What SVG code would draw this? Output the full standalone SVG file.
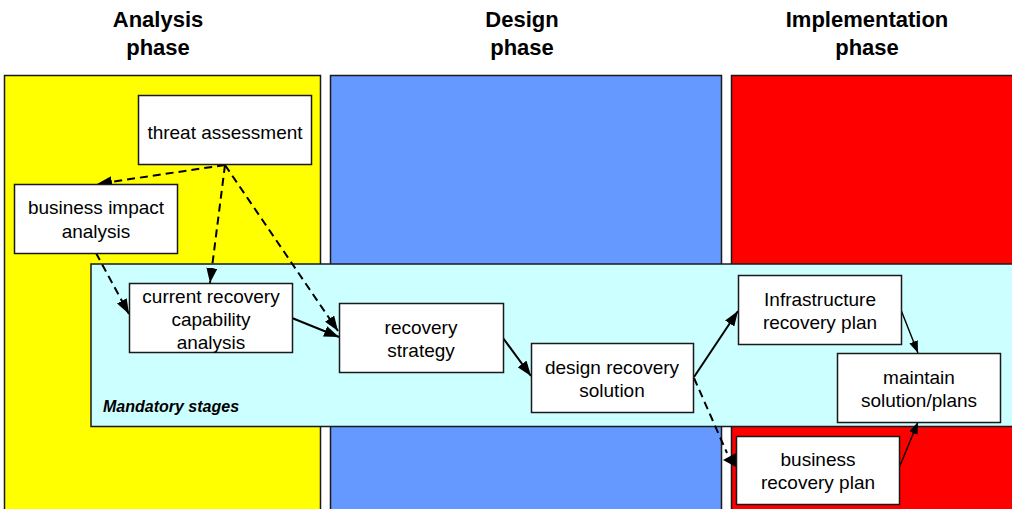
<svg xmlns="http://www.w3.org/2000/svg" width="1012" height="509" viewBox="0 0 1012 509">
<style>
.title{font-family:"Liberation Sans",Arial,sans-serif;font-size:22px;font-weight:bold;fill:#000;text-anchor:middle}
.panel{stroke:#1a1a1a;stroke-width:1.5}
.box{fill:#fff;stroke:#1a1a1a;stroke-width:1.5}
.lbl{font-family:"Liberation Sans",Arial,sans-serif;font-size:19px;fill:#000;text-anchor:middle}
.solid{fill:none;stroke:#000;stroke-width:2}
.thin{fill:none;stroke:#000;stroke-width:1.4}
.dash{fill:none;stroke:#000;stroke-width:2;stroke-dasharray:8,5}
.mand{font-family:"Liberation Sans",Arial,sans-serif;font-size:16px;font-weight:bold;font-style:italic;fill:#000}
</style>
<defs>
<marker id="ah" markerUnits="userSpaceOnUse" markerWidth="15" markerHeight="11" refX="15" refY="5.5" orient="auto">
<path d="M0,0 L15,5.5 L0,11 z" fill="#000"/>
</marker>
<marker id="ahs" markerUnits="userSpaceOnUse" markerWidth="12" markerHeight="9" refX="12" refY="4.5" orient="auto">
<path d="M0,0 L12,4.5 L0,9 z" fill="#000"/>
</marker>
</defs>
<rect width="1012" height="509" fill="#fff"/>
<g id="titles">
<text class="title" x="158" y="27">Analysis</text>
<text class="title" x="158" y="55">phase</text>
<text class="title" x="522" y="27">Design</text>
<text class="title" x="522" y="55">phase</text>
<text class="title" x="867" y="27">Implementation</text>
<text class="title" x="867" y="55">phase</text>
</g>
<g id="panels">
<rect class="panel" x="4.5" y="75.5" width="316" height="450" fill="#ffff00"/>
<rect class="panel" x="330.5" y="75.5" width="391" height="450" fill="#6699ff"/>
<rect class="panel" x="731.5" y="75.5" width="300" height="450" fill="#ff0000"/>
</g>
<g id="mandatory">
<rect class="panel" x="91" y="264" width="940" height="162.5" fill="#ccffff"/>
<text class="mand" x="103" y="412">Mandatory stages</text>
</g>
<g id="connectors">
<path class="dash" d="M225,165 L97,184" marker-end="url(#ah)"/>
<path class="dash" d="M225,165 L210,283" marker-end="url(#ah)"/>
<path class="dash" d="M225,165 L338,331" marker-end="url(#ah)"/>
<path class="dash" d="M96,253 L129,314" marker-end="url(#ah)"/>
<path class="solid" d="M292,318 L339,337" marker-end="url(#ah)"/>
<path class="solid" d="M503,338 L531,376" marker-end="url(#ah)"/>
<path class="solid" d="M694,377 L738,311" marker-end="url(#ah)"/>
<path class="dash" d="M694,378 L727,453"/>
<polygon points="723,460 736,453 736,467" fill="#000"/>
<path class="thin" d="M901,310 L918,353" marker-end="url(#ahs)"/>
<path class="thin" d="M899,468 L918,422" marker-end="url(#ahs)"/>
</g>
<g id="threat">
<rect class="box" x="138.5" y="95.5" width="173" height="69"/>
<text class="lbl" x="225" y="138.5">threat assessment</text>
</g>
<g id="bia">
<rect class="box" x="14.5" y="184.5" width="163" height="69"/>
<text class="lbl" x="96" y="214">business impact</text>
<text class="lbl" x="96" y="238">analysis</text>
</g>
<g id="crca">
<rect class="box" x="129.5" y="283.5" width="163" height="69"/>
<text class="lbl" x="211" y="303">current recovery</text>
<text class="lbl" x="211" y="326">capability</text>
<text class="lbl" x="211" y="349">analysis</text>
</g>
<g id="strategy">
<rect class="box" x="339.5" y="303.5" width="164" height="69"/>
<text class="lbl" x="421" y="333.5">recovery</text>
<text class="lbl" x="421" y="356.5">strategy</text>
</g>
<g id="drs">
<rect class="box" x="531.5" y="343.5" width="162" height="69"/>
<text class="lbl" x="612" y="373.5">design recovery</text>
<text class="lbl" x="612" y="396.5">solution</text>
</g>
<g id="irp">
<rect class="box" x="738.5" y="275.5" width="163" height="69"/>
<text class="lbl" x="820" y="306">Infrastructure</text>
<text class="lbl" x="820" y="329">recovery plan</text>
</g>
<g id="maintain">
<rect class="box" x="837.5" y="353.5" width="163" height="69"/>
<text class="lbl" x="919" y="383.5">maintain</text>
<text class="lbl" x="919" y="406.5">solution/plans</text>
</g>
<g id="brp">
<rect class="box" x="736.5" y="436.5" width="163" height="68"/>
<text class="lbl" x="818" y="465.5">business</text>
<text class="lbl" x="818" y="488.5">recovery plan</text>
</g>
</svg>
